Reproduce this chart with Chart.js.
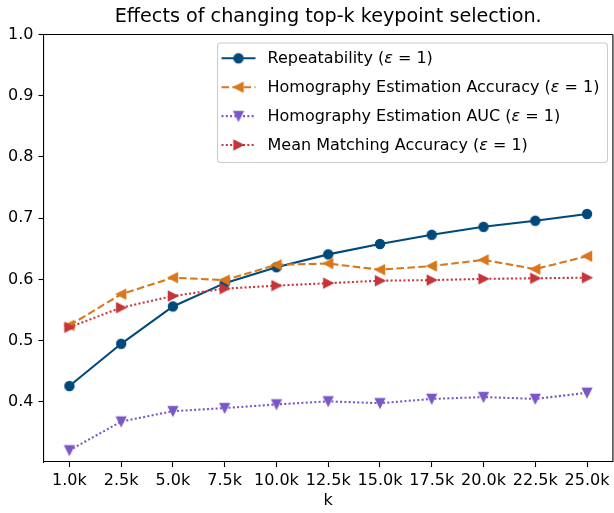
<!DOCTYPE html>
<html><head><meta charset="utf-8">
<script src="https://cdn.jsdelivr.net/npm/chart.js@4/dist/chart.umd.min.js"></script>
<style>
html,body{margin:0;padding:0;background:#fff;overflow:hidden;width:614px;height:513px}
#wrap{width:620px;height:513px;position:relative}
</style></head>
<body><div id="wrap"><canvas id="c" width="620" height="513"></canvas></div>
<script>
// ---- data ----
const categories = ['1.0k','2.5k','5.0k','7.5k','10.0k','12.5k','15.0k','17.5k','20.0k','22.5k','25.0k'];
const repeatability      = [0.426,0.495,0.556,0.594,0.620,0.641,0.658,0.673,0.686,0.696,0.707];
const homographyAccuracy = [0.525,0.576,0.603,0.599,0.624,0.626,0.616,0.622,0.632,0.617,0.638];
const homographyAUC      = [0.321,0.368,0.385,0.390,0.396,0.401,0.398,0.405,0.408,0.405,0.415];
const matchingAccuracy   = [0.522,0.554,0.573,0.585,0.590,0.594,0.598,0.599,0.601,0.602,0.603];
const yTicks = [0.4,0.5,0.6,0.7,0.8,0.9,1.0];
const seriesNames = ['Repeatability','Homography Estimation Accuracy','Homography Estimation AUC','Mean Matching Accuracy'];
const epsLabel = ' (\u03b5 = 1)';
const titleText = 'Effects of changing top-k keypoint selection.';
const xLabel = 'k';

const FONT = "'DejaVu Sans', 'Liberation Sans', sans-serif";
const FS = 16, TFS = 19.2;
const LW = 2.08;

function makeMarker(kind, color){
  const s = 16, c = document.createElement('canvas'); c.width = s; c.height = s;
  const g = c.getContext('2d'); const h = 4.5, m = s/2;
  g.beginPath();
  if (kind === 'circle') { g.arc(m, m, h, 0, Math.PI*2); }
  else {
    let pts;
    if (kind === 'left') pts = [[-h,0],[h,-h],[h,h]];
    else if (kind === 'down') pts = [[0,h],[-h,-h],[h,-h]];
    else pts = [[h,0],[-h,-h],[-h,h]];
    g.moveTo(m+pts[0][0], m+pts[0][1]);
    g.lineTo(m+pts[1][0], m+pts[1][1]);
    g.lineTo(m+pts[2][0], m+pts[2][1]);
    g.closePath();
  }
  g.fillStyle = color; g.fill();
  g.lineWidth = 1.4; g.strokeStyle = color; g.lineJoin = 'miter'; g.stroke();
  return c;
}

const colors = ['#004a7b', '#d9781b', '#7a57c6', '#c5353a'];
const dashes = [[], [7.6, 3.4], [2.0, 2.3], [2.0, 2.3]];
const markers = ['circle', 'left', 'down', 'right'];
const values = [repeatability, homographyAccuracy, homographyAUC, matchingAccuracy];

const datasets = values.map((v, i) => ({
  label: seriesNames[i] + epsLabel,
  data: v,
  borderColor: colors[i],
  backgroundColor: colors[i],
  borderWidth: LW,
  borderDash: dashes[i],
  pointStyle: makeMarker(markers[i], colors[i]),
  pointRadius: 5,
  tension: 0,
  fill: false,
  order: 10 - i,
  clip: false
}));

const framePlugin = {
  id: 'frame',
  afterDatasetsDraw(chart) {
    const ctx = chart.ctx, a = chart.chartArea;
    ctx.save();
    ctx.strokeStyle = '#000'; ctx.lineWidth = 1.1;
    ctx.beginPath();
    ctx.moveTo(a.left, a.top); ctx.lineTo(a.right, a.top);
    ctx.moveTo(a.right, a.top); ctx.lineTo(a.right, a.bottom);
    ctx.stroke();
    ctx.restore();
  },
  afterDraw(chart) {
    const ctx = chart.ctx;
    ctx.save();
    const x0 = 217.5, y0 = 43, x1 = 607.5, y1 = 162.5;
    ctx.beginPath();
    ctx.roundRect(x0, y0, x1 - x0, y1 - y0, 3.2);
    ctx.fillStyle = 'rgba(255,255,255,0.8)'; ctx.fill();
    ctx.strokeStyle = '#cccccc'; ctx.lineWidth = 1.1; ctx.stroke();
    chart.data.datasets.forEach((ds, i) => {
      const y = 58.3 + i * 28.9;
      const hx0 = 221.5, hx1 = 255.5;
      ctx.beginPath();
      ctx.setLineDash(ds.borderDash || []);
      ctx.lineDashOffset = 0;
      ctx.strokeStyle = ds.borderColor; ctx.lineWidth = ds.borderWidth; ctx.lineCap = 'butt';
      ctx.moveTo(hx0, y); ctx.lineTo(hx1, y); ctx.stroke();
      ctx.setLineDash([]);
      const img = ds.pointStyle;
      ctx.drawImage(img, (hx0 + hx1) / 2 - img.width / 2, y - img.height / 2);
      // text with italic epsilon
      const parts = ds.label.split('\u03b5');
      let tx = 267.5;
      ctx.fillStyle = '#000'; ctx.textBaseline = 'middle'; ctx.textAlign = 'left';
      ctx.font = FS + 'px ' + FONT;
      ctx.fillText(parts[0], tx, y + 0.5); tx += ctx.measureText(parts[0]).width;
      ctx.font = 'italic ' + FS + 'px ' + FONT;
      ctx.fillText('\u03b5', tx, y + 0.5); tx += ctx.measureText('\u03b5').width;
      ctx.font = FS + 'px ' + FONT;
      ctx.fillText(parts[1], tx, y + 0.5);
    });
    ctx.restore();
  }
};

new Chart(document.getElementById('c'), {
  type: 'line',
  data: { labels: categories, datasets },
  plugins: [framePlugin],
  options: {
    responsive: false,
    devicePixelRatio: 1,
    animation: false,
    events: [],
    layout: { padding: { left: 0, right: 4.5, top: 0, bottom: 0 } },
    plugins: {
      legend: { display: false },
      tooltip: { enabled: false },
      title: {
        display: true, text: titleText, fullSize: false, color: '#000',
        font: { family: FONT, size: TFS, weight: 'normal', lineHeight: 1.2 },
        padding: { top: 5.2, bottom: 6.26 }
      }
    },
    scales: {
      x: {
        type: 'category', offset: true,
        grid: { display: true, drawOnChartArea: false, drawTicks: true, tickLength: 5, tickWidth: 1.1, tickColor: '#000', offset: false },
        border: { display: true, color: '#000', width: 1.1 },
        ticks: { color: '#000', font: { family: FONT, size: FS, lineHeight: 1.2 }, padding: 4.6, maxRotation: 0, autoSkip: false },
        title: { display: true, text: xLabel, color: '#000', font: { family: FONT, size: FS, lineHeight: 1.2 }, padding: { top: 0, bottom: 2.2 } },
        afterFit(s) { s.height = 51; }
      },
      y: {
        type: 'linear', min: 0.302, max: 1.0,
        grid: { display: true, drawOnChartArea: false, drawTicks: true, tickLength: 5, tickWidth: 1.1, tickColor: '#000' },
        border: { display: true, color: '#000', width: 1.1 },
        ticks: { color: '#000', font: { family: FONT, size: FS, lineHeight: 1.2 }, padding: 5.0, callback: v => Number(v).toFixed(1) },
        afterBuildTicks(s) { s.ticks = yTicks.map(v => ({ value: v })); },
        afterFit(s) { s.width = 43.5; }
      }
    }
  }
});
</script>
</body></html>
